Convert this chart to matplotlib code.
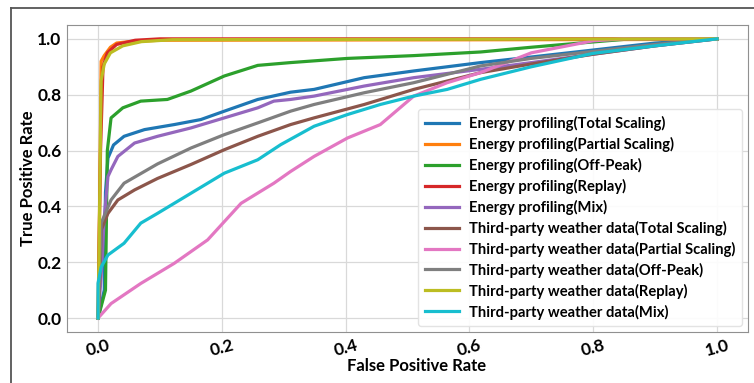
import matplotlib
matplotlib.use("Agg")
import matplotlib.pyplot as plt
from matplotlib.lines import Line2D

plt.rcParams['font.family'] = ['Lato', 'DejaVu Sans']
plt.rcParams['font.weight'] = 'bold'

labels = [
    "Energy profiling(Total Scaling)",
    "Energy profiling(Partial Scaling)",
    "Energy profiling(Off-Peak)",
    "Energy profiling(Replay)",
    "Energy profiling(Mix)",
    "Third-party weather data(Total Scaling)",
    "Third-party weather data(Partial Scaling)",
    "Third-party weather data(Off-Peak)",
    "Third-party weather data(Replay)",
    "Third-party weather data(Mix)",
]

# ROC curves
ep_total_fpr = [0, 0.01, 0.012, 0.016, 0.025, 0.042, 0.075, 0.123, 0.166, 0.204, 0.258, 0.311, 0.349, 0.43, 0.51, 0.618, 0.7, 0.8, 0.9, 1.0]
ep_total_tpr = [0, 0.1, 0.45, 0.573, 0.62, 0.651, 0.675, 0.693, 0.711, 0.741, 0.783, 0.809, 0.819, 0.861, 0.885, 0.915, 0.935, 0.96, 0.985, 1.0]

ep_partial_fpr = [0, 0.003, 0.005, 0.01, 0.02, 0.03, 0.05, 0.1, 1.0]
ep_partial_tpr = [0, 0.5, 0.92, 0.94, 0.97, 0.985, 0.99, 0.995, 0.998]

ep_offpeak_fpr = [0, 0.012, 0.015, 0.021, 0.04, 0.069, 0.112, 0.15, 0.204, 0.258, 0.311, 0.403, 0.51, 0.618, 0.7, 0.8, 0.86, 1.0]
ep_offpeak_tpr = [0, 0.1, 0.6, 0.717, 0.753, 0.777, 0.783, 0.813, 0.867, 0.905, 0.915, 0.93, 0.94, 0.953, 0.97, 0.989, 1.0, 1.0]

ep_replay_fpr = [0, 0.004, 0.008, 0.015, 0.03, 0.06, 0.1, 1.0]
ep_replay_tpr = [0, 0.6, 0.9, 0.95, 0.98, 0.995, 1.0, 1.0]

ep_mix_fpr = [0, 0.005, 0.01, 0.016, 0.021, 0.032, 0.059, 0.096, 0.15, 0.204, 0.258, 0.284, 0.311, 0.349, 0.43, 0.51, 0.618, 0.7, 0.8, 0.9, 1.0]
ep_mix_tpr = [0, 0.15, 0.36, 0.507, 0.531, 0.579, 0.627, 0.651, 0.681, 0.717, 0.753, 0.777, 0.783, 0.795, 0.831, 0.861, 0.891, 0.915, 0.945, 0.975, 1.0]

tw_total_fpr = [0, 0.003, 0.005, 0.016, 0.032, 0.059, 0.096, 0.15, 0.204, 0.258, 0.311, 0.349, 0.43, 0.51, 0.564, 0.618, 0.7, 0.8, 0.9, 1.0]
tw_total_tpr = [0, 0.15, 0.315, 0.375, 0.423, 0.459, 0.5, 0.55, 0.603, 0.651, 0.693, 0.717, 0.765, 0.819, 0.849, 0.879, 0.91, 0.945, 0.975, 1.0]

tw_partial_fpr = [0, 0.021, 0.069, 0.123, 0.177, 0.231, 0.284, 0.311, 0.349, 0.403, 0.456, 0.51, 0.564, 0.618, 0.7, 0.8, 0.85, 1.0]
tw_partial_tpr = [0, 0.052, 0.124, 0.196, 0.28, 0.411, 0.483, 0.525, 0.579, 0.645, 0.693, 0.795, 0.843, 0.879, 0.95, 0.993, 1.0, 1.0]

tw_offpeak_fpr = [0, 0.003, 0.005, 0.021, 0.042, 0.096, 0.15, 0.204, 0.258, 0.311, 0.349, 0.43, 0.51, 0.618, 0.7, 0.8, 0.9, 1.0]
tw_offpeak_tpr = [0, 0.2, 0.34, 0.423, 0.483, 0.552, 0.609, 0.657, 0.699, 0.741, 0.765, 0.807, 0.843, 0.903, 0.93, 0.955, 0.98, 1.0]

tw_replay_fpr = [0, 0.002, 0.005, 0.01, 0.02, 0.04, 0.07, 0.12, 1.0]
tw_replay_tpr = [0, 0.3, 0.85, 0.91, 0.95, 0.975, 0.99, 0.997, 1.0]

tw_mix_fpr = [0, 0.0, 0.005, 0.016, 0.042, 0.069, 0.096, 0.15, 0.204, 0.258, 0.295, 0.349, 0.403, 0.456, 0.51, 0.564, 0.618, 0.7, 0.8, 0.9, 1.0]
tw_mix_tpr = [0, 0.125, 0.183, 0.226, 0.268, 0.34, 0.375, 0.447, 0.519, 0.567, 0.621, 0.687, 0.729, 0.765, 0.795, 0.819, 0.855, 0.9, 0.948, 0.975, 1.0]

curves = [
    (ep_total_fpr, ep_total_tpr),
    (ep_partial_fpr, ep_partial_tpr),
    (ep_offpeak_fpr, ep_offpeak_tpr),
    (ep_replay_fpr, ep_replay_tpr),
    (ep_mix_fpr, ep_mix_tpr),
    (tw_total_fpr, tw_total_tpr),
    (tw_partial_fpr, tw_partial_tpr),
    (tw_offpeak_fpr, tw_offpeak_tpr),
    (tw_replay_fpr, tw_replay_tpr),
    (tw_mix_fpr, tw_mix_tpr),
]

fig = plt.figure(figsize=(7.54, 3.83), dpi=100)
ax = fig.add_axes([0.089, 0.133, 0.903, 0.802])

for (x, y), lab in zip(curves, labels):
    ax.plot(x, y, lw=2.3, label=lab)

ax.set_xlim(-0.05, 1.05)
ax.set_ylim(-0.05, 1.05)
ax.grid(True, color="#d9d9d9", lw=0.9)
ax.set_axisbelow(True)
for s in ax.spines.values():
    s.set_color("#909090")
ax.tick_params(length=0, labelsize=12.5, pad=4)
for t in ax.get_xticklabels():
    t.set_rotation(15)
    t.set_fontweight('bold')
for t in ax.get_yticklabels():
    t.set_fontweight('bold')

ax.set_xlabel("False Positive Rate", fontsize=12, fontweight='bold')
ax.set_ylabel("True Positive Rate", fontsize=12, fontweight='bold')
ax.xaxis.set_label_coords(0.513, -0.085)
ax.yaxis.set_label_coords(-0.046, 0.5)

leg = ax.legend(loc="lower right", prop={'weight': 'bold', 'size': 10.6},
                handlelength=2.3, handletextpad=0.7, labelspacing=0.4, borderpad=0.45,
                framealpha=0.9, edgecolor="#e0e0e0", borderaxespad=0.4)

# outer frame lines (top and left)
fig.add_artist(Line2D([11 / 754, 1.0], [1 - 8 / 383, 1 - 8 / 383], color="#555555", lw=1.3))
fig.add_artist(Line2D([11 / 754, 11 / 754], [0, 1 - 8 / 383], color="#555555", lw=1.3))

fig.savefig("out.png", dpi=100)
